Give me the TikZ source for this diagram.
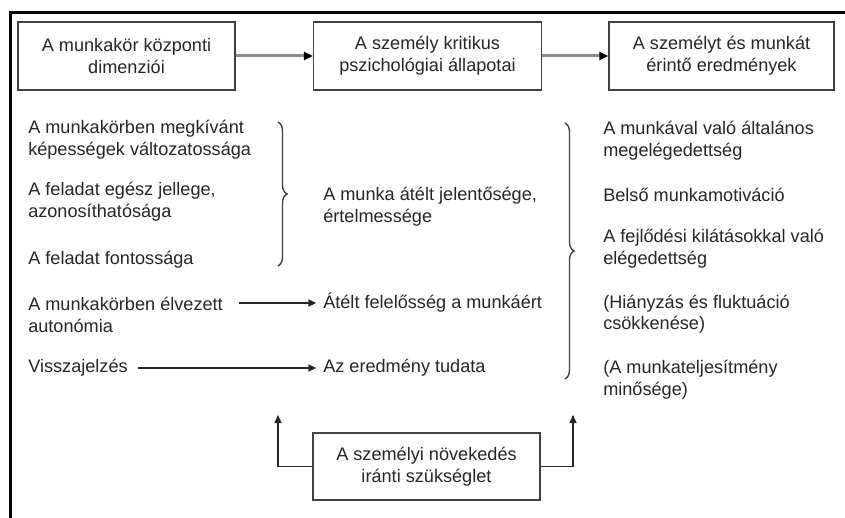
\documentclass[tikz,border=0pt]{standalone}
\usepackage{fontspec}
\setmainfont{Liberation Sans}
\usetikzlibrary{arrows.meta,decorations.pathreplacing}
\begin{document}
\begin{tikzpicture}[x=0.75pt,y=-0.75pt,
  every node/.style={font=\fontsize{13.6}{16.2}\selectfont, text=black!85},
  topbox/.style={draw=black!75, line width=1pt, minimum height=51pt, align=center, inner sep=0},
  txt/.style={anchor=west, align=left, inner sep=0},
  toparr/.style={draw=black!45, line width=2.25pt, -{Triangle[length=6.75pt,width=6pt,color=black]}},
  arr/.style={draw=black!85, line width=1pt, -{Triangle[length=6pt,width=5.25pt]}},
  brc/.style={draw=black!75, line width=1.05pt, decorate, decoration={brace, amplitude=6.75pt}}]
\useasboundingbox (0,0) rectangle (845,517);
\fill[white] (0,0) rectangle (845,517);
% frame
\draw[line width=2.25pt, black] (860,13) -- (10,13) -- (10,530);
% top boxes
\node[topbox, minimum width=162.75pt] (b1) at (126.5,56) {A munkakör központi\\dimenziói};
\node[topbox, minimum width=171pt] (b2) at (427.5,56) {A személy kritikus\\pszichológiai állapotai};
\node[topbox, minimum width=168.75pt] (b3) at (721.5,56) {A személyt és munkát\\érintő eredmények};
\draw[toparr] (b1) -- (b2);
\draw[toparr] (b2) -- (b3);
% left column
\node[txt] (l1) at (28,140) {A munkakörben megkívánt\\képességek változatossága};
\node[txt] (l2) at (28,202) {A feladat egész jellege,\\azonosíthatósága};
\node[txt] (l3) at (28,260) {A feladat fontossága};
\node[txt] (l4) at (28,315) {A munkakörben élvezett\\autonómia};
\node[txt] (l5) at (28,368) {Visszajelzés};
% middle column
\node[txt] (m1) at (323,207) {A munka átélt jelentősége,\\értelmessége};
\node[txt] (m2) at (323,303) {Átélt felelősség a munkáért};
\node[txt] (m3) at (323,368) {Az eredmény tudata};
% right column
\node[txt] (r1) at (603,141) {A munkával való általános\\megelégedettség};
\node[txt] (r2) at (603,195) {Belső munkamotiváció};
\node[txt] (r3) at (603,249) {A fejlődési kilátásokkal való\\elégedettség};
\node[txt] (r4) at (603,314) {(Hiányzás és fluktuáció\\csökkenése)};
\node[txt] (r5) at (603,380) {(A munkateljesítmény\\minősége)};
% braces
\coordinate (lb1) at (278,122);
\coordinate (lb2) at (278,266);
\draw[brc] (lb1) -- (lb2);
\coordinate (rb1) at (565,123);
\coordinate (rb2) at (565,379);
\draw[brc] (rb1) -- (rb2);
% row arrows
\coordinate (a4) at (239,303);
\draw[arr, shorten >=5pt] (a4) -- (m2.west);
\coordinate (a5) at (138,368);
\draw[arr, shorten >=5pt] (a5) -- (m3.west);
% bottom box
\node[topbox, minimum width=170.25pt, minimum height=50.25pt] (b4) at (426.5,466.5) {A személyi növekedés\\iránti szükséglet};
\coordinate (tl) at (278,415);
\coordinate (tr) at (573,415);
\draw[arr] (b4.west) -| (tl);
\draw[arr] (b4.east) -| (tr);
\end{tikzpicture}
\end{document}
